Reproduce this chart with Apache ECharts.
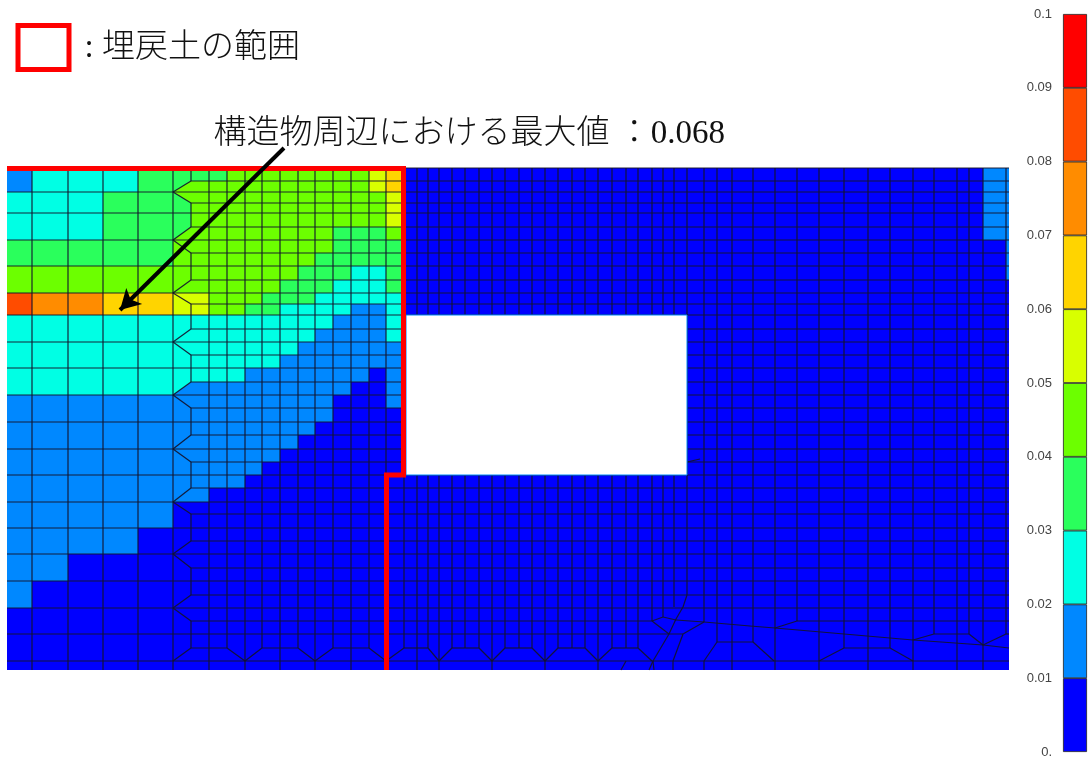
<!DOCTYPE html>
<html>
<head>
<meta charset="utf-8">
<title>埋戻土の範囲</title>
<script src="https://cdn.jsdelivr.net/npm/echarts@6/dist/echarts.min.js"></script>
<style>
	html, body { margin: 0; padding: 0; background: #fff; }
	#main { width: 1088px; height: 760px; }
</style>
</head>
<body>
<div id="main"></div>
<script>
// colour bar
var bandStarts = [0, 0.01, 0.02, 0.03, 0.04, 0.05, 0.06, 0.07, 0.08, 0.09];
var bandSize = [0.01, 0.01, 0.01, 0.01, 0.01, 0.01, 0.01, 0.01, 0.01, 0.01];
var bandColors = ['#0000ff', '#0088ff', '#00ffe4', '#2aff5c', '#6cff00', '#d8ff00', '#ffd400', '#ff8c00', '#ff4c00', '#ff0000'];

// mesh rows, model units (y grows downward)
var rows = [168, 181, 192, 203, 213, 227, 240, 253, 266, 280, 293, 304, 315, 329, 342, 355, 368, 382, 395, 408, 422, 435, 449, 462, 475, 488, 502, 514, 528, 541, 554, 568, 581, 595, 608, 621, 634, 648, 661, 670];
var domain = [7, 168, 1009, 670];

// coarse zone on the left
var coarseCols = [7, 32, 68, 103, 138, 173];
var coarseRows = [168, 192, 213, 240, 266, 293, 315, 342, 368, 395, 422, 449, 475, 502, 528, 554, 581, 608];
var coarseLevels = [
	'12223',
	'22233',
	'22233',
	'33333',
	'44444',
	'87766',
	'22222',
	'22222',
	'22222',
	'11111',
	'11111',
	'11111',
	'11111',
	'11111',
	'11110',
	'11000',
	'10000'
];

// fine zone, first column is the transition column 173-191
var fineCols = [173, 191, 209, 227, 245, 262, 280, 298, 315, 333, 351, 369, 386, 403];
var fineLevels = [
	'3334444444456',
	'3444444444456',
	'3444444444445',
	'3444444444445',
	'3444444444445',
	'3444444443334',
	'4444444443333',
	'4444444433333',
	'4444444333223',
	'4444443332223',
	'5544433322222',
	'5544332222112',
	'2222222221112',
	'2222222211112',
	'2222222111111',
	'2222221111111',
	'2222111111101',
	'2111111111001',
	'1111111110001',
	'1111111110000',
	'1111111100000',
	'1111111000000',
	'1111110000000',
	'1111100000000',
	'1111000000000',
	'1100000000000'
];

// top right patches [x0, x1, y1, level]
var rightPatches = [[983, 1006, 240, 1], [1006, 1009, 280, 1]];

// opening of the structure
var hole = [406, 315, 687, 475];

// verticals [x, y0, y1]
var coarseLines = [[32, 168, 670], [68, 168, 670], [103, 168, 670], [138, 168, 670], [173, 168, 670]];
var meshCols = [
	[209, 168, 670], [227, 168, 648], [245, 168, 670], [262, 168, 648], [280, 168, 670], [298, 168, 648], [315, 168, 670], [333, 168, 648], [351, 168, 670], [369, 168, 648], [386, 168, 670],
	[404, 475, 648], [417, 168, 670], [428, 168, 648], [439, 168, 670], [452, 168, 648], [465, 168, 648], [479, 168, 648], [492, 168, 670], [505, 168, 648], [519, 168, 648], [532, 168, 648],
	[545, 168, 670], [558, 168, 648], [572, 168, 648], [585, 168, 648], [598, 168, 670], [612, 168, 648], [626, 168, 648], [638, 168, 648], [652, 168, 621], [663, 168, 617], [674, 168, 607], [687, 168, 595],
	[704, 168, 622], [717, 168, 642], [732, 168, 670], [753, 168, 642], [775, 168, 670], [797, 168, 621], [819, 168, 670], [844, 168, 648], [868, 168, 670], [890, 168, 648], [913, 168, 670],
	[934, 168, 634], [957, 168, 670], [969, 168, 634], [983, 168, 670], [1006, 168, 634]
];

// short horizontal runs [y, x0, x1] where the rows are not continuous
var partialRows = [
	[621, 191, 652], [621, 797, 1009],
	[634, 7, 683], [634, 934, 969], [634, 1006, 1009],
	[648, 191, 227], [648, 262, 298], [648, 333, 369], [648, 404, 428], [648, 452, 479], [648, 505, 532], [648, 558, 585], [648, 612, 638], [642, 717, 753], [648, 844, 890]
];
var tipRowIndex = [2, 6, 10, 14, 18, 22, 26, 30, 34, 38];

// irregular elements along the bottom, polylines of [x, y]
var skewLines = [
	[[227, 648], [245, 661], [262, 648]],
	[[298, 648], [315, 661], [333, 648]],
	[[369, 648], [386, 661], [404, 648]],
	[[428, 648], [439, 661], [452, 648]],
	[[479, 648], [492, 661], [505, 648]],
	[[532, 648], [545, 661], [558, 648]],
	[[585, 648], [598, 661], [612, 648]],
	[[638, 648], [652, 661]],
	[[687, 595], [683, 607], [676, 619], [669, 634], [653, 661], [649, 670]],
	[[653, 661], [654, 670]],
	[[652, 621], [663, 617], [676, 620], [704, 622], [750, 626], [775, 628], [913, 640], [983, 645], [1009, 648]],
	[[652, 621], [669, 634]],
	[[704, 622], [683, 634], [673, 661], [673, 670]],
	[[717, 642], [704, 661], [704, 670]],
	[[753, 642], [774, 661]],
	[[775, 628], [797, 621]],
	[[819, 661], [844, 648]],
	[[890, 648], [913, 661]],
	[[913, 640], [934, 634]],
	[[969, 634], [983, 645], [1006, 634]],
	[[626, 661], [621, 670]],
	[[687, 462], [700, 459]]
];

// annotation
var fillBoundary = [[7, 168.5], [403.5, 168.5], [403.5, 475], [386.5, 475], [386.5, 670]];
var legendBox = [[18, 25.5], [69, 25.5], [69, 69.5], [18, 69.5], [18, 25.5]];
var arrowFrom = [284, 148];
var arrowTo = [120, 310];
var textLabels = [
	{ value: [84, 48], name: ': 埋戻土の範囲' },
	{ value: [213, 134], name: '構造物周辺における最大値 ：0.068' }
];

var myChart = echarts.init(document.getElementById('main'));

// filled cells: [x0, y0, x1, y1, level]
var cells = [[domain[0], domain[1], domain[2], domain[3], 0]];
for (var r = 0; r < coarseLevels.length; r++) {
	for (var c = 0; c < coarseCols.length - 1; c++) {
		cells.push([coarseCols[c], coarseRows[r], coarseCols[c + 1], coarseRows[r + 1], +coarseLevels[r][c]]);
	}
}
for (var r = 0; r < fineLevels.length; r++) {
	for (var c = 0; c < fineCols.length - 1; c++) {
		cells.push([fineCols[c], rows[r], fineCols[c + 1], rows[r + 1], +fineLevels[r][c]]);
	}
}
for (var i = 0; i < rightPatches.length; i++) {
	cells.push([rightPatches[i][0], domain[1], rightPatches[i][1], rightPatches[i][2], rightPatches[i][3]]);
}

// wedges at the transition tips: [x0, y0, x1, y1, x2, y2, level]
function levelAt(rowIdx) {
	return rowIdx < fineLevels.length ? +fineLevels[rowIdx][1] : 0;
}
var wedges = [];
for (var i = 0; i < tipRowIndex.length; i++) {
	var t = tipRowIndex[i];
	wedges.push([173, rows[t], 191, rows[t - 1], 191, rows[t], levelAt(t - 1)]);
	if (t < 38) {
		wedges.push([173, rows[t], 191, rows[t], 191, rows[t + 1], levelAt(t)]);
	}
}

// mesh lines: [x0, y0, x1, y1]
var segments = [];
coarseLines.concat(meshCols).forEach(function(v) {
	segments.push([v[0], v[1], v[0], v[2]]);
});
for (var i = 1; i < rows.length - 1; i++) {
	if (i === 35 || i === 36 || i === 37) continue;
	segments.push([i % 2 === 0 ? 7 : 191, rows[i], domain[2], rows[i]]);
}
segments.push([406, 168, domain[2], 168]);
partialRows.forEach(function(h) {
	segments.push([h[1], h[0], h[2], h[0]]);
});
for (var i = 0; i < tipRowIndex.length; i++) {
	var t = tipRowIndex[i];
	segments.push([173, rows[t], 191, rows[t - 1]]);
	if (t < 38) {
		segments.push([173, rows[t], 191, rows[t + 1]]);
		// short vertical between two tips
		segments.push([191, rows[t + 1], 191, rows[t + 3]]);
	}
}
segments.push([191, 168, 191, 181]);
skewLines.forEach(function(p) {
	for (var k = 0; k < p.length - 1; k++) {
		segments.push([p[k][0], p[k][1], p[k + 1][0], p[k + 1][1]]);
	}
});

function renderCell(params, api) {
	var a = api.coord([api.value(0), api.value(1)]);
	var b = api.coord([api.value(2), api.value(3)]);
	return {
		type: 'rect',
		shape: { x: a[0], y: a[1], width: b[0] - a[0], height: b[1] - a[1] },
		style: { fill: bandColors[api.value(4)], stroke: null }
	};
}
function renderWedge(params, api) {
	return {
		type: 'polygon',
		shape: { points: [
			api.coord([api.value(0), api.value(1)]),
			api.coord([api.value(2), api.value(3)]),
			api.coord([api.value(4), api.value(5)])
		] },
		style: { fill: bandColors[api.value(6)], stroke: null }
	};
}
function renderSegment(params, api) {
	var a = api.coord([api.value(0), api.value(1)]);
	var b = api.coord([api.value(2), api.value(3)]);
	return {
		type: 'line',
		shape: { x1: a[0], y1: a[1], x2: b[0], y2: b[1] },
		style: { stroke: 'rgba(20,20,45,0.92)', lineWidth: 1.2 }
	};
}
function renderHole(params, api) {
	var a = api.coord([api.value(0), api.value(1)]);
	var b = api.coord([api.value(2), api.value(3)]);
	return {
		type: 'rect',
		shape: { x: a[0], y: a[1], width: b[0] - a[0], height: b[1] - a[1] },
		style: { fill: '#fff', stroke: '#0088ff', lineWidth: 1 }
	};
}

var series = [
	{ type: 'custom', renderItem: renderCell, data: cells, xAxisIndex: 0, yAxisIndex: 0, z: 1, silent: true, encode: { x: [0, 2], y: [1, 3] } },
	{ type: 'custom', renderItem: renderWedge, data: wedges, xAxisIndex: 0, yAxisIndex: 0, z: 2, silent: true, encode: { x: [0, 2, 4], y: [1, 3, 5] } },
	{ type: 'custom', renderItem: renderSegment, data: segments, xAxisIndex: 0, yAxisIndex: 0, z: 3, silent: true, encode: { x: [0, 2], y: [1, 3] } },
	{ type: 'custom', renderItem: renderHole, data: [hole], xAxisIndex: 0, yAxisIndex: 0, z: 4, silent: true, encode: { x: [0, 2], y: [1, 3] } },
	{
		name: '埋戻土の範囲', type: 'line', data: fillBoundary, xAxisIndex: 0, yAxisIndex: 0, z: 5, showSymbol: false, silent: true,
		lineStyle: { color: '#ff0000', width: 5, join: 'miter' }
	},
	{
		type: 'line', data: legendBox, xAxisIndex: 0, yAxisIndex: 0, z: 5, showSymbol: false, silent: true,
		lineStyle: { color: '#ff0000', width: 5, join: 'miter', cap: 'square' }
	},
	{
		type: 'line', data: [], xAxisIndex: 0, yAxisIndex: 0, z: 6, silent: true,
		markLine: {
			z: 10, silent: true, animation: false, symbol: ['none', 'arrow'], symbolSize: [17, 20],
			label: { show: false },
			lineStyle: { color: '#000', width: 4, type: 'solid' },
			data: [[{ coord: arrowFrom }, { coord: arrowTo }]]
		}
	},
	{
		type: 'scatter', data: textLabels, xAxisIndex: 0, yAxisIndex: 0, z: 7, symbolSize: 1, silent: true,
		itemStyle: { opacity: 0 },
		label: {
			show: true, position: 'right', distance: 0, opacity: 1, color: '#111',
			fontSize: 33, fontWeight: 300, fontFamily: "'Liberation Serif', 'Noto Sans CJK JP'",
			formatter: function(p) { return p.name; }
		}
	}
];
// colour bar bands, one stacked bar each
for (var i = 0; i < bandSize.length; i++) {
	series.push({
		type: 'bar', stack: 'scale', data: [bandSize[i]], xAxisIndex: 1, yAxisIndex: 1, barWidth: '100%', silent: true, z: 2,
		itemStyle: { color: bandColors[i], borderColor: '#222', borderWidth: 0.8 }
	});
}

var option = {
	animation: false,
	backgroundColor: '#fff',
	tooltip: { show: false },
	grid: [
		{ left: 0, top: 0, width: 1088, height: 760 },
		{ left: 1063, top: 14, width: 24, height: 738 }
	],
	xAxis: [
		{ type: 'value', min: 0, max: 1088, show: false, gridIndex: 0 },
		{ type: 'category', data: ['scale'], show: false, gridIndex: 1 }
	],
	yAxis: [
		{ type: 'value', min: 0, max: 760, inverse: true, show: false, gridIndex: 0 },
		{
			type: 'value', min: 0, max: 0.1, interval: 0.01, gridIndex: 1,
			axisLine: { show: false }, axisTick: { show: false }, splitLine: { show: false },
			axisLabel: {
				margin: 11, color: '#444', fontSize: 13, fontFamily: "'Liberation Sans'", padding: [2, 0, 0, 0],
				formatter: function(v) {
					return v === 0 ? '0.' : String(+v.toFixed(2));
				}
			}
		}
	],
	series: series
};
myChart.setOption(option);
</script>
</body>
</html>
